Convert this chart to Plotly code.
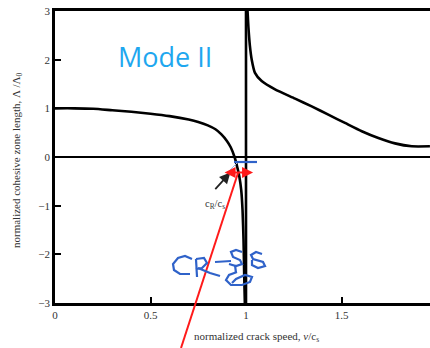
import plotly.graph_objects as go

# Sub-sonic branch (v < c_s): normalized cohesive zone length
speed_sub = [0, 0.1, 0.2, 0.3, 0.4, 0.5, 0.6, 0.7, 0.75, 0.8, 0.84, 0.87, 0.9,
             0.92, 0.94, 0.955, 0.965, 0.975, 0.982, 0.987, 0.991, 0.994]
length_sub = [1.0, 1.0, 0.99, 0.96, 0.93, 0.89, 0.84, 0.77, 0.72, 0.65, 0.57, 0.47, 0.33,
              0.2, 0.0, -0.22, -0.4, -0.68, -1.1, -1.7, -2.5, -3.0]

# Intersonic branch (v > c_s)
speed_super = [1.008, 1.013, 1.02, 1.03, 1.047, 1.082, 1.152, 1.257, 1.344, 1.431,
               1.518, 1.606, 1.693, 1.78, 1.868, 1.963]
length_super = [3.0, 2.65, 2.3, 2.0, 1.73, 1.56, 1.39, 1.20, 1.04, 0.87,
                0.70, 0.53, 0.39, 0.28, 0.22, 0.22]

# Shear wave speed asymptote
asym_x = [1.0, 1.0]
asym_y = [-3.0, 3.0]

x_ticks = [0, 0.5, 1, 1.5]
x_tick_text = ["0", "0.5", "1", "1.5"]
y_ticks = [-3, -2, -1, 0, 1, 2, 3]

rayleigh_ratio = 0.94  # c_R / c_s, where the zone length vanishes

W, H = 430, 348
ML, MR, MT, MB = 55, 0, 11, 45
PW, PH = W - ML - MR, H - MT - MB

SERIF = "Liberation Serif, Times New Roman, serif"
INK = "#2f62c9"


def fig_px(x, y):
    """Figure pixel position (origin top-left) -> paper coordinates."""
    return (x - ML) / PW, (H - MB - y) / PH


def pen_path(points):
    pts = [fig_px(x, y) for x, y in points]
    return "M" + " L".join(f"{a:.4f},{b:.4f}" for a, b in pts)


def paper_label(text, x, y, **kw):
    px, py = fig_px(x, y)
    return dict(text=text, x=px, y=py, xref="paper", yref="paper",
                xanchor="center", yanchor="middle", showarrow=False, **kw)


fig = go.Figure()

line_style = dict(color="black", width=2.6)
fig.add_trace(go.Scatter(x=speed_sub, y=length_sub, mode="lines",
                         line=dict(shape="spline", smoothing=0.6, **line_style)))
fig.add_trace(go.Scatter(x=speed_super, y=length_super, mode="lines",
                         line=dict(shape="spline", smoothing=0.6, **line_style)))
fig.add_trace(go.Scatter(x=asym_x, y=asym_y, mode="lines",
                         line=dict(color="black", width=2.6)))

annotations = [
    paper_label("Mode II", 165, 57,
                font=dict(family="Open Sans", size=27, color="#1ea7ef")),
    paper_label("normalized cohesive zone length, Λ /Λ<sub>0</sub>", 17, 161,
                textangle=-90, font=dict(family=SERIF, size=11, color="#333")),
    paper_label("normalized crack speed, <i>v</i>/c<sub>s</sub>", 256, 337,
                font=dict(family=SERIF, size=11, color="#333")),
    dict(text="c<sub>R</sub>/c<sub>s</sub>", x=0.838, y=-0.98, xref="x", yref="y",
         xanchor="center", yanchor="middle",
         showarrow=False, font=dict(family=SERIF, size=10.5, color="#333")),
    # pointer to the Rayleigh speed
    dict(text="", x=rayleigh_ratio - 0.022, y=-0.32, ax=0.832, ay=-0.69,
         xref="x", yref="y", axref="x", ayref="y", showarrow=True,
         arrowhead=2, arrowsize=1.2, arrowwidth=1.8, arrowcolor="#222"),
    # red double arrow between c_R and c_s
    dict(text="", x=1.037, y=-0.32, ax=0.880, ay=-0.32,
         xref="x", yref="y", axref="x", ayref="y", showarrow=True,
         arrowhead=2, startarrowhead=2, arrowside="end+start", arrowsize=1.1,
         arrowwidth=2, arrowcolor="#ff1a1a"),
]

shapes = [
    # long red pointer line
    dict(type="line", xref="paper", yref="paper",
         x0=fig_px(181, 348)[0], y0=fig_px(181, 348)[1],
         x1=fig_px(238, 173)[0], y1=fig_px(238, 173)[1],
         line=dict(color="#ff1a1a", width=2)),
]

# handwritten note strokes
strokes = [
    [(192, 259), (185, 256), (178, 258), (173, 264), (174, 270), (180, 274), (190, 274)],
    [(197, 277), (196, 259)],
    [(196, 259), (204, 258), (207, 263), (202, 268), (196, 269)],
    [(198, 268), (210, 273), (220, 276)],
    [(215, 262), (231, 261)],
    [(242, 252), (236, 250), (231, 252), (233, 257), (240, 260), (242, 264), (236, 266), (229, 264)],
    [(262, 254), (256, 252), (251, 255), (253, 259), (263, 262), (265, 266), (258, 268),
     (252, 265), (252, 260)],
    [(235, 265), (236, 273)],
    [(237, 272), (229, 275), (226, 280), (231, 285), (242, 285), (250, 282), (252, 277),
     (245, 275), (236, 279), (232, 283)],
    [(234, 162), (257, 162)],
]
for s in strokes:
    shapes.append(dict(type="path", xref="paper", yref="paper", path=pen_path(s),
                       line=dict(color=INK, width=2.2)))
shapes.append(dict(type="path", xref="paper", yref="paper",
                   path=pen_path([(237, 163), (229, 171)]),
                   line=dict(color="#9fb6e8", width=1)))

fig.update_layout(
    width=W, height=H,
    margin=dict(l=ML, r=MR, t=MT, b=MB, pad=0),
    paper_bgcolor="white", plot_bgcolor="white",
    showlegend=False,
    annotations=annotations,
    shapes=shapes,
    xaxis=dict(range=[0, PW / 191.0], tickvals=x_ticks, ticktext=x_tick_text,
               ticks="inside", ticklen=6, tickwidth=2, tickcolor="black",
               showline=True, linecolor="black", linewidth=2.5, mirror=True,
               showgrid=False, zeroline=False,
               tickfont=dict(family=SERIF, size=11, color="#333")),
    yaxis=dict(range=[-3, 3], tickvals=y_ticks,
               ticks="inside", ticklen=6, tickwidth=2, tickcolor="black",
               showline=True, linecolor="black", linewidth=2.5, mirror=False,
               showgrid=False, zeroline=True, zerolinecolor="black", zerolinewidth=2,
               tickfont=dict(family=SERIF, size=11, color="#333")),
)

fig.write_html("out.html")
